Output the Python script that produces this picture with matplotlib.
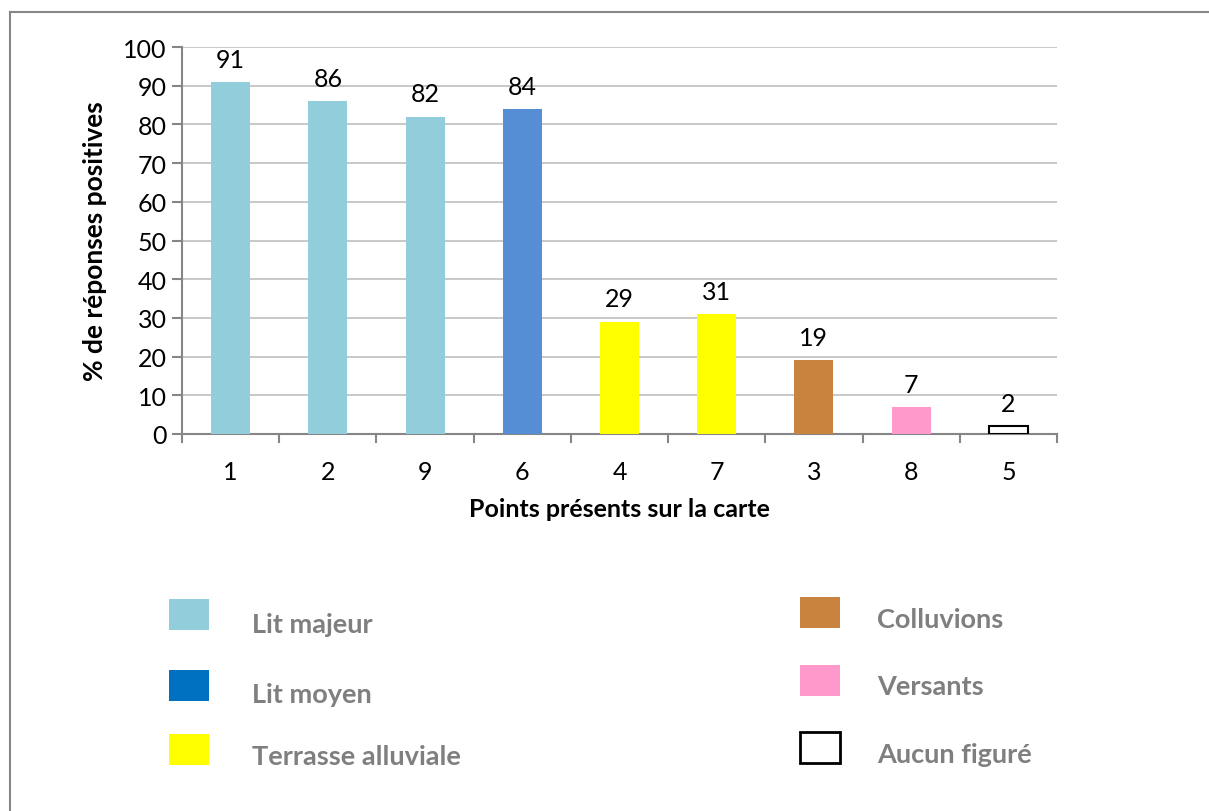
import matplotlib.pyplot as plt
from matplotlib.patches import Rectangle
from matplotlib.lines import Line2D

plt.rcParams['font.family'] = ['Lato', 'DejaVu Sans']

# ── Data ──────────────────────────────────────────────────────────────────────
points = ["1", "2", "9", "6", "4", "7", "3", "8", "5"]
pct_positive = [91, 86, 82, 84, 29, 31, 19, 7, 2]
bar_colors = ["#92CDDC", "#92CDDC", "#92CDDC", "#558ED5",
              "#FFFF00", "#FFFF00", "#C8843F", "#FF99CC", "white"]
bar_edges = ["none"] * 8 + ["black"]

legend_labels_left = ["Lit majeur", "Lit moyen", "Terrasse alluviale"]
legend_colors_left = ["#92CDDC", "#0070C0", "#FFFF00"]
legend_labels_right = ["Colluvions", "Versants", "Aucun figuré"]
legend_colors_right = ["#C8843F", "#FF99CC", "white"]

GRID_GREY = "#BFBFBF"
AXIS_GREY = "#868686"
LEGEND_TEXT = "#7F7F7F"

W, H = 1209, 812
fig = plt.figure(figsize=(W / 100, H / 100), dpi=100)


def fx(px):
    return px / W


def fy(py):
    return 1 - py / H


ax = fig.add_axes([fx(182), fy(435), fx(1057) - fx(182), fy(48) - fy(435)])

x = range(len(points))
ax.bar(x, pct_positive, width=0.4, color=bar_colors,
       edgecolor=bar_edges, linewidth=1.5, zorder=3)

for xi, v in zip(x, pct_positive):
    ax.annotate(f"{v:.0f}", (xi, v), xytext=(0, 11), textcoords="offset points",
                ha="center", va="baseline", fontsize=18, color="black")

ax.set_xlim(-0.5, len(points) - 0.5)
ax.set_ylim(0, 100)
ax.set_yticks(range(0, 101, 10))
ax.set_xticks(list(x))
ax.set_xticklabels(points)
ax.tick_params(axis="both", labelsize=18, colors="black")
ax.tick_params(axis="x", length=0, pad=19)
ax.tick_params(axis="y", length=7, width=1.5, color=AXIS_GREY, pad=4)

# category boundary ticks on the x axis
for b in [i - 0.5 for i in range(len(points) + 1)]:
    ax.plot([b, b], [0, -2], color=AXIS_GREY, lw=1.5, clip_on=False, zorder=4)

ax.grid(axis="y", color=GRID_GREY, lw=1.2, zorder=0)
ax.set_axisbelow(True)
for side in ("top", "right"):
    ax.spines[side].set_visible(False)
for side in ("left", "bottom"):
    ax.spines[side].set_color(AXIS_GREY)
    ax.spines[side].set_linewidth(1.5)

ax.set_ylabel("% de réponses positives", fontsize=19, fontweight="bold",
              labelpad=12)
ax.set_xlabel("Points présents sur la carte", fontsize=18, fontweight="bold",
              labelpad=10)

# ── Legend drawn by hand in two columns ───────────────────────────────────────
def legend_item(sq_x, sq_y, txt_x, txt_y, color, label):
    edge = "black" if color == "white" else "none"
    fig.add_artist(Rectangle((fx(sq_x), fy(sq_y + 31)), fx(40), 31 / H,
                             transform=fig.transFigure, facecolor=color,
                             edgecolor=edge, linewidth=2))
    fig.text(fx(txt_x), fy(txt_y), label, fontsize=19.5, fontweight="bold",
             color=LEGEND_TEXT, ha="left", va="center")


for i, (lab, col) in enumerate(zip(legend_labels_left, legend_colors_left)):
    sq_y = [600, 671, 735][i]
    txt_y = [625, 695, 757][i]
    legend_item(169, sq_y, 252, txt_y, col, lab)

for i, (lab, col) in enumerate(zip(legend_labels_right, legend_colors_right)):
    sq_y = [598, 666, 733][i]
    txt_y = [620, 687, 755][i]
    legend_item(800, sq_y, 877, txt_y, col, lab)

# chart area frame (top and left edges)
fig.add_artist(Line2D([fx(10), 1], [fy(13), fy(13)], transform=fig.transFigure,
                      color=AXIS_GREY, lw=1.5))
fig.add_artist(Line2D([fx(10), fx(10)], [fy(13), 0], transform=fig.transFigure,
                      color=AXIS_GREY, lw=1.5))

fig.savefig("out.png", dpi=100)
